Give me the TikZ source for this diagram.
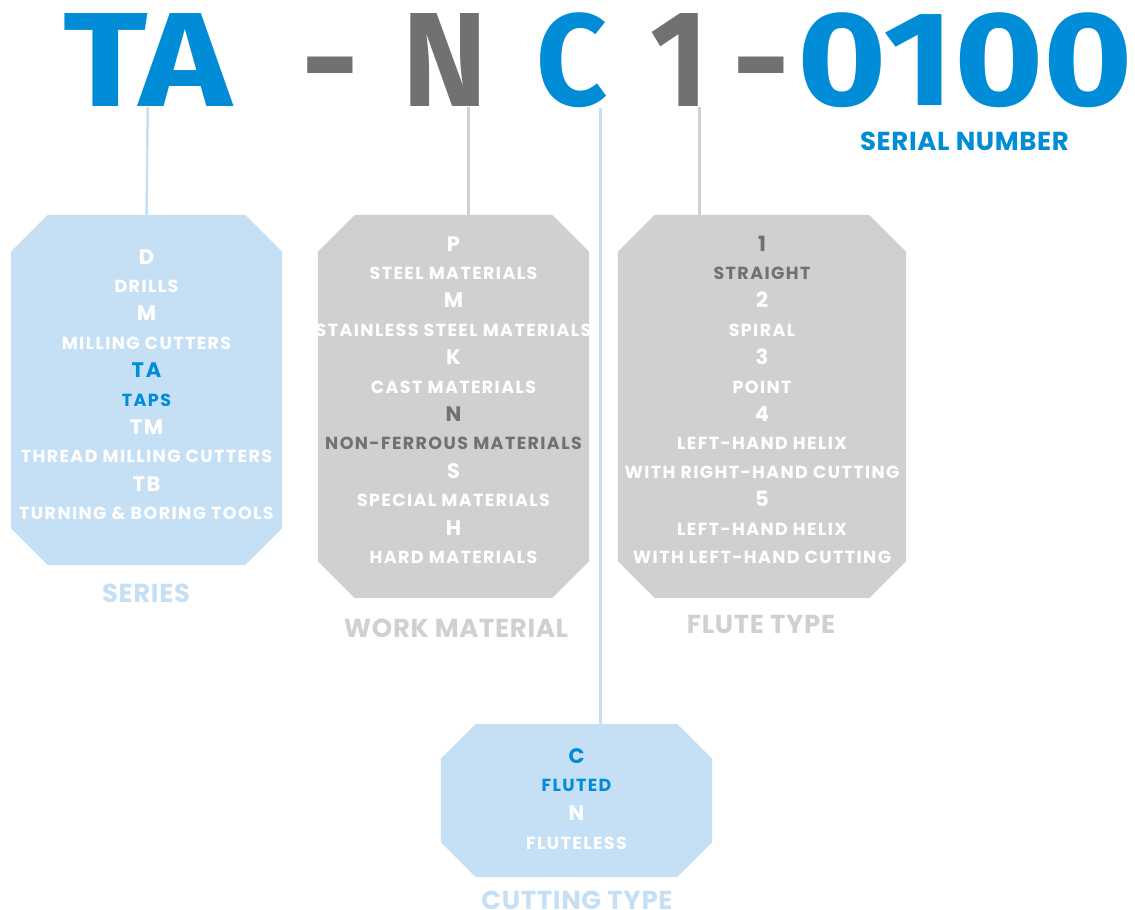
\documentclass[tikz,border=0pt]{standalone}
\usepackage{fontspec}
\setmainfont{Fira Sans}
\newfontfamily\labfont{Poppins}[LetterSpace=8]
\newfontfamily\capfont{Poppins}[LetterSpace=2.5]
\newfontfamily\headfont{Fira Sans}
\definecolor{cblue}{HTML}{008CD6}
\definecolor{lblue}{HTML}{C5E0F5}
\definecolor{lgray}{HTML}{D0D0D0}
\definecolor{dgray}{HTML}{717171}
\newcommand\octfill[3]{\fill[#2] ([xshift=#3]#1.north west) -- ([xshift=-#3]#1.north east)
  -- ([yshift=-#3]#1.north east) -- ([yshift=#3]#1.south east) -- ([xshift=-#3]#1.south east)
  -- ([xshift=#3]#1.south west) -- ([yshift=#3]#1.south west) -- ([yshift=-#3]#1.north west) -- cycle;}
\begin{document}
\begin{tikzpicture}[x=1pt,y=-1pt,
  octbox/.style={rectangle, inner sep=0pt, draw=none},
  bigtxt/.style={font=\labfont\bfseries\fontsize{21}{21}\selectfont, anchor=base, inner sep=0pt},
  smalltxt/.style={font=\labfont\bfseries\fontsize{17.5}{17.5}\selectfont, anchor=base, inner sep=0pt},
  captxt/.style={font=\capfont\bfseries\fontsize{26}{26}\selectfont, anchor=base, inner sep=0pt},
  headtxt/.style={font=\headfont\bfseries, anchor=south west, inner sep=0pt},
  hyph/.style={font=\headfont\bfseries\fontsize{135}{135}\selectfont, anchor=base, inner sep=0pt, text=dgray},
  bline/.style={draw=lblue, line width=2.5pt},
  gline/.style={draw=lgray, line width=2.5pt}]
\useasboundingbox (0,0) rectangle (1135,910);
% heading
\node[headtxt, text=cblue] (TA) at (63,107) {\resizebox*{169pt}{93pt}{TA}};
\node[hyph] (d1) at (330,107) {\scalebox{1.05}[1]{-}};
\node[headtxt, text=dgray] (N) at (402,107) {\resizebox*{85pt}{93pt}{N}};
\node[headtxt, text=cblue] (C) at (536,108) {\resizebox*{71pt}{95pt}{C}};
\node[headtxt, text=dgray] (one) at (650,107) {\resizebox*{58pt}{93pt}{1}};
\node[hyph] (d2) at (761,107) {\scalebox{1.05}[1]{-}};
\node[headtxt, text=cblue] (num) at (797,108) {\resizebox*{336pt}{95pt}{0100}};
\node[captxt, text=cblue] (serial) at (964.5,150) {SERIAL NUMBER};
% boxes
\node[octbox, minimum width=271pt, minimum height=350pt] (series) at (146.5,390) {};
\node[octbox, minimum width=271pt, minimum height=383pt] (wm) at (453.5,406.5) {};
\node[octbox, minimum width=288pt, minimum height=383pt] (flute) at (762,406.5) {};
\node[octbox, minimum width=271pt, minimum height=153pt] (cut) at (576.5,800.5) {};
\octfill{series}{lblue}{37pt}
\octfill{wm}{lgray}{37pt}
\octfill{flute}{lgray}{37pt}
\octfill{cut}{lblue}{35pt}
% connectors
\draw[bline] (TA.south) -- (series.north);
\draw[gline] ([xshift=-19pt]N.south east) -- ([xshift=-19pt]N.south east |- wm.north);
\draw[bline] ([xshift=-7pt]C.south east) -- ([xshift=-7pt]C.south east |- cut.north);
\draw[gline] ([xshift=-9pt]one.south east) -- ([xshift=-9pt]one.south east |- flute.north);
% box texts
\foreach [count=\i] \t/\st/\c in {D/bigtxt/white, DRILLS/smalltxt/white, M/bigtxt/white, MILLING CUTTERS/smalltxt/white,
  TA/bigtxt/cblue, TAPS/smalltxt/cblue, TM/bigtxt/white, THREAD MILLING CUTTERS/smalltxt/white,
  TB/bigtxt/white, TURNING \& BORING TOOLS/smalltxt/white}
  \node[\st, text=\c] (s\i) at (146.5,{264+28.4*(\i-1)}) {\t};
\foreach [count=\i] \t/\st/\c in {P/bigtxt/white, STEEL MATERIALS/smalltxt/white, M/bigtxt/white, STAINLESS STEEL MATERIALS/smalltxt/white,
  K/bigtxt/white, CAST MATERIALS/smalltxt/white, N/bigtxt/dgray, NON-FERROUS MATERIALS/smalltxt/dgray,
  S/bigtxt/white, SPECIAL MATERIALS/smalltxt/white, H/bigtxt/white, HARD MATERIALS/smalltxt/white}
  \node[\st, text=\c] (w\i) at (453.5,{251+28.4*(\i-1)}) {\t};
\foreach [count=\i] \t/\st/\c in {1/bigtxt/dgray, STRAIGHT/smalltxt/dgray, 2/bigtxt/white, SPIRAL/smalltxt/white,
  3/bigtxt/white, POINT/smalltxt/white, 4/bigtxt/white, LEFT-HAND HELIX/smalltxt/white, WITH RIGHT-HAND CUTTING/smalltxt/white,
  5/bigtxt/white, LEFT-HAND HELIX/smalltxt/white, WITH LEFT-HAND CUTTING/smalltxt/white}
  \node[\st, text=\c] (f\i) at (762,{251+28.4*(\i-1)}) {\t};
\foreach [count=\i] \t/\st/\c in {C/bigtxt/cblue, FLUTED/smalltxt/cblue, N/bigtxt/white, FLUTELESS/smalltxt/white}
  \node[\st, text=\c] (c\i) at (576.5,{763+28.7*(\i-1)}) {\t};
% captions
\node[captxt, text=lblue] (lseries) at (146,602) {SERIES};
\node[captxt, text=lgray] (lwm) at (456,637) {WORK MATERIAL};
\node[captxt, text=lgray] (lflute) at (761,633) {FLUTE TYPE};
\node[captxt, text=lblue] (lcut) at (577,909) {CUTTING TYPE};
\end{tikzpicture}
\end{document}
